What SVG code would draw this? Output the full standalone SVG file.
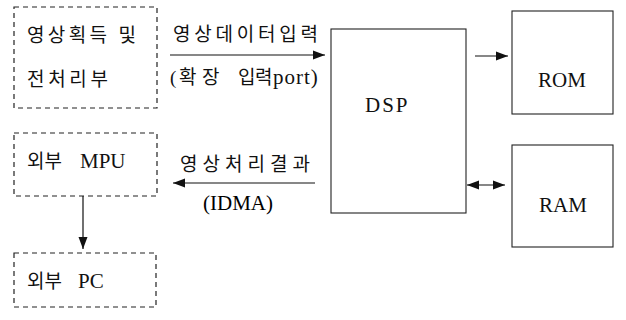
<svg xmlns="http://www.w3.org/2000/svg" width="626" height="320" viewBox="0 0 626 320">
<defs>
<style>
.dash{fill:none;stroke:#222;stroke-width:1.2;stroke-dasharray:5,4}
.solid{fill:none;stroke:#222;stroke-width:1.1}
.ln{stroke:#111;stroke-width:1.2;fill:none}
.k{font-family:'Liberation Serif','Times New Roman','DejaVu Serif','Noto Sans CJK KR',serif;font-size:19px;fill:#111}
.e{font-family:'Liberation Serif','Times New Roman','DejaVu Serif',serif;font-size:21px;fill:#111}
.l{font-family:'Liberation Serif','Times New Roman','DejaVu Serif',serif;font-size:21px}
</style>
<marker id="ah" viewBox="0 0 12 10" refX="12" refY="5" markerWidth="12" markerHeight="10" markerUnits="userSpaceOnUse" orient="auto-start-reverse">
<path d="M0,0.5 L12,5 L0,9.5 Z" fill="#111"/>
</marker>
</defs>
<rect width="626" height="320" fill="#fff"/>
<g id="node-acq">
<rect class="dash" x="14" y="7" width="143" height="101"/>
<text class="k" x="27" y="42" textLength="109" lengthAdjust="spacing">영상획득 및</text>
<text class="k" x="27" y="86" textLength="81" lengthAdjust="spacing">전처리부</text>
</g>
<g id="node-mpu">
<rect class="dash" x="14" y="133" width="143" height="63"/>
<text class="k" x="27" y="168">외부 <tspan class="l" x="80">MPU</tspan></text>
</g>
<g id="node-pc">
<rect class="dash" x="14" y="253" width="142" height="54"/>
<text class="k" x="27" y="288">외부 <tspan class="l" x="78">PC</tspan></text>
</g>
<g id="node-dsp">
<rect class="solid" x="331" y="29" width="135" height="184"/>
<text class="e" x="365" y="112" font-size="22" letter-spacing="2">DSP</text>
</g>
<g id="node-rom">
<rect class="solid" x="512" y="11" width="101" height="103"/>
<text class="e" x="538" y="87">ROM</text>
</g>
<g id="node-ram">
<rect class="solid" x="512" y="145" width="101" height="102"/>
<text class="e" x="539" y="212">RAM</text>
</g>
<g id="connectors">
<line class="ln" x1="170" y1="55" x2="325" y2="55" marker-end="url(#ah)"/>
<text class="k" x="173" y="41" textLength="145" lengthAdjust="spacing">영상데이터입력</text>
<text class="k" x="170" y="84">(<tspan x="179">확</tspan><tspan x="202">장</tspan><tspan x="238">입</tspan><tspan x="255">력</tspan><tspan class="l" x="273" letter-spacing="1">port)</tspan></text>
<line class="ln" x1="475" y1="56" x2="508" y2="56" marker-end="url(#ah)"/>
<line class="ln" x1="315" y1="183" x2="173" y2="183" marker-end="url(#ah)"/>
<text class="k" x="180" y="171" textLength="130" lengthAdjust="spacing">영상처리결과</text>
<text class="l" x="203" y="210">(IDMA)</text>
<line class="ln" x1="467" y1="185" x2="505" y2="185" marker-start="url(#ah)" marker-end="url(#ah)"/>
<line class="ln" x1="83" y1="196" x2="83" y2="249" marker-end="url(#ah)"/>
</g>
</svg>
